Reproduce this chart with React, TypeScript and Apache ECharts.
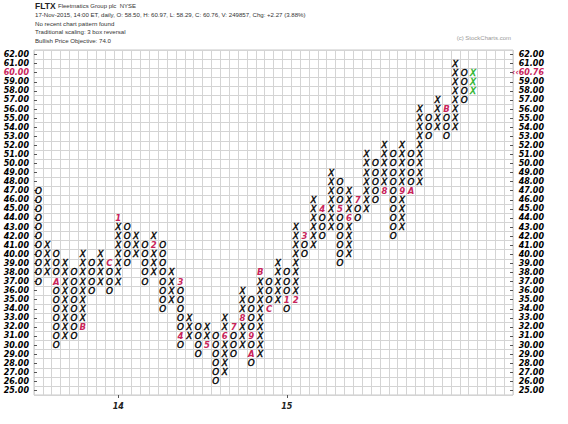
import React, { useEffect, useRef } from 'react';
import * as echarts from 'echarts';

// Price rows (box size 1), bottom to top
const priceLabels = [
  '25.00', '26.00', '27.00', '28.00', '29.00', '30.00', '31.00', '32.00', '33.00', '34.00',
  '35.00', '36.00', '37.00', '38.00', '39.00', '40.00', '41.00', '42.00', '43.00', '44.00',
  '45.00', '46.00', '47.00', '48.00', '49.00', '50.00', '51.00', '52.00', '53.00', '54.00',
  '55.00', '56.00', '57.00', '58.00', '59.00', '60.00', '61.00', '62.00',
];
const basePrice = 25;

// Point & figure columns: kind, lowest box, highest box
const colKinds = 'OXOXOXOXOXOXOXOXOXOXOXOXOXOXOXOXOXOXOXOXOXOXOXOXOX';
const colLows = [37, 38, 30, 31, 31, 32, 36, 37, 36, 37, 39, 40, 37, 38, 34, 35, 30, 31, 29, 30, 26, 27, 29, 30, 28, 29, 34, 35, 34, 35, 40, 41, 42, 43, 39, 40, 44, 45, 46, 47, 42, 43, 47, 48, 53, 54, 53, 54, 57, 58];
const colHighs = [47, 41, 40, 39, 38, 40, 39, 40, 39, 44, 43, 42, 41, 42, 41, 38, 37, 33, 32, 32, 31, 33, 32, 36, 35, 38, 37, 39, 38, 43, 42, 46, 45, 49, 48, 47, 46, 51, 50, 52, 51, 52, 51, 56, 55, 57, 56, 61, 60, 60];
const totalColumns = 54;
const currentColumn = 49;

// Month markers: [column, price, label]
const monthMarks: [number, number, string][] = [
  [2, 37, 'A'], [5, 32, 'B'], [8, 39, 'C'], [9, 44, '1'], [13, 41, '2'], [16, 37, '3'],
  [16, 31, '4'], [19, 30, '5'], [21, 31, '6'], [22, 32, '7'], [23, 33, '8'], [24, 31, '9'],
  [24, 29, 'A'], [25, 38, 'B'], [26, 34, 'C'], [28, 35, '1'], [29, 35, '2'], [30, 42, '3'],
  [32, 45, '4'], [34, 45, '5'], [35, 44, '6'], [36, 46, '7'], [39, 47, '8'], [41, 47, '9'],
  [42, 47, 'A'], [46, 56, 'B'],
];

// Year labels on the x axis: [column, label]
const yearLabels: [number, string][] = [[9, '14'], [28, '15']];

const headerLines = [
  '17-Nov-2015, 14:00 ET, daily, O: 58.50, H: 60.97, L: 58.29, C: 60.76, V: 249857, Chg: +2.27 (3.88%)',
  'No recent chart pattern found',
  'Traditional scaling: 3 box reversal',
  'Bullish Price Objective: 74.0',
];
const lastPrice = '60.76';
const lastPriceRow = '60.00';

const CRIMSON = '#c8245a';
const GREEN = '#22b022';
const INK = '#000000';

const App = () => {
  const ref = useRef<HTMLDivElement>(null);

  useEffect(() => {
    if (!ref.current) return;
    const chart = echarts.init(ref.current, null, { renderer: 'svg' });

    const markMap = new Map<string, string>();
    monthMarks.forEach(([c, p, l]) => markMap.set(c + '_' + p, l));

    const xPts: number[][] = [];
    const oPts: number[][] = [];
    const gPts: number[][] = [];
    const mPts: any[] = [];
    for (let c = 0; c < colKinds.length; c++) {
      for (let p = colLows[c]; p <= colHighs[c]; p++) {
        const key = c + '_' + p;
        const pt = [c, p - basePrice];
        if (markMap.has(key)) {
          mPts.push([c, p - basePrice, markMap.get(key)]);
        } else if (c === currentColumn) {
          gPts.push(pt);
        } else if (colKinds[c] === 'X') {
          xPts.push(pt);
        } else {
          oPts.push(pt);
        }
      }
    }

    const xCats: string[] = [];
    for (let i = 0; i < totalColumns; i++) {
      const y = yearLabels.find((d) => d[0] === i);
      xCats.push(y ? y[1] : '');
    }
    const yearCols = yearLabels.map((d) => d[0]);

    const glyphLabel = (color: string, text: string | null, bold: boolean) => ({
      show: true,
      position: 'inside',
      formatter: text !== null ? text : (pp: any) => pp.value[2],
      color,
      opacity: 1,
      textBorderWidth: bold ? 0 : 0.4,
      textBorderColor: color,
      fontFamily: 'DejaVu Sans',
      fontStyle: 'italic',
      fontWeight: bold ? 'bold' : 'normal',
      fontSize: bold ? 8.5 : 8.8,
    });

    const scatterBase = {
      type: 'scatter',
      symbol: 'rect',
      symbolSize: 1,
      itemStyle: { color: 'rgba(255,255,255,0)' },
      silent: true,
      xAxisIndex: 0,
      yAxisIndex: 0,
    };

    const axisFont = {
      fontFamily: 'DejaVu Sans',
      fontStyle: 'italic',
      fontWeight: 'bold',
      fontSize: 8,
    };

    const option: any = {
      animation: false,
      backgroundColor: '#ffffff',
      grid: {
        left: 34,
        right: 55,
        top: 50,
        bottom: 29,
        show: true,
        borderColor: '#c8c8c8',
        borderWidth: 1,
        backgroundColor: 'transparent',
      },
      xAxis: {
        type: 'category',
        data: xCats,
        boundaryGap: true,
        axisLine: { show: false },
        axisTick: {
          show: true,
          alignWithLabel: true,
          length: 3,
          interval: (i: number) => yearCols.indexOf(i) >= 0,
          lineStyle: { color: '#555' },
        },
        axisLabel: { ...axisFont, color: '#222', interval: 0, margin: 7 },
        splitLine: { show: true, interval: 0, lineStyle: { color: '#d4d4d4', width: 1 } },
      },
      yAxis: [
        {
          type: 'category',
          data: priceLabels,
          position: 'left',
          boundaryGap: true,
          axisLine: { show: false },
          axisTick: { show: true, alignWithLabel: true, inside: true, length: 3, lineStyle: { color: '#555' } },
          axisLabel: {
            ...axisFont,
            interval: 0,
            margin: 5,
            color: (v: string) => (v === lastPriceRow ? CRIMSON : INK),
          },
          splitLine: { show: true, interval: 0, lineStyle: { color: '#d4d4d4', width: 1 } },
        },
        {
          type: 'category',
          data: priceLabels,
          position: 'right',
          boundaryGap: true,
          axisLine: { show: false },
          axisTick: { show: true, alignWithLabel: true, inside: true, length: 3, lineStyle: { color: '#555' } },
          axisLabel: {
            ...axisFont,
            interval: 0,
            align: 'right',
            margin: 31,
            formatter: (v: string) => (v === lastPriceRow ? '\u2039\u2039' + lastPrice : v),
            color: (v: string) => (v === lastPriceRow ? CRIMSON : INK),
          },
          splitLine: { show: false },
        },
      ],
      series: [
        { ...scatterBase, name: 'X', data: xPts, label: glyphLabel(INK, 'X', false) },
        { ...scatterBase, name: 'O', data: oPts, label: glyphLabel(INK, 'O', false) },
        { ...scatterBase, name: 'current', data: gPts, label: glyphLabel(GREEN, 'X', false) },
        { ...scatterBase, name: 'months', data: mPts, label: glyphLabel(CRIMSON, null, true) },
      ],
      graphic: [
        {
          type: 'text',
          left: 35,
          top: 1,
          style: { text: 'FLTX', font: 'bold 8.5px "Liberation Sans", Arial, sans-serif', fill: '#222' },
        },
        {
          type: 'text',
          left: 58,
          top: 3,
          style: { text: 'Fleetmatics Group plc  NYSE', font: '6px "Liberation Sans", Arial, sans-serif', fill: '#333' },
        },
        ...headerLines.map((t, i) => ({
          type: 'text',
          left: 35,
          top: 11.5 + i * 8.5,
          style: { text: t, font: '6.1px "Liberation Sans", Arial, sans-serif', fill: '#333' },
        })),
        {
          type: 'text',
          right: 57,
          top: 35,
          style: { text: '(c) StockCharts.com', font: '6px "Liberation Sans", Arial, sans-serif', fill: '#999' },
        },
      ],
    };

    chart.setOption(option);
    return () => chart.dispose();
  }, []);

  return (
    <div
      ref={ref}
      style={{ position: 'fixed', left: 0, top: 0, width: 568, height: 424, background: '#fff' }}
    />
  );
};

export default App;
